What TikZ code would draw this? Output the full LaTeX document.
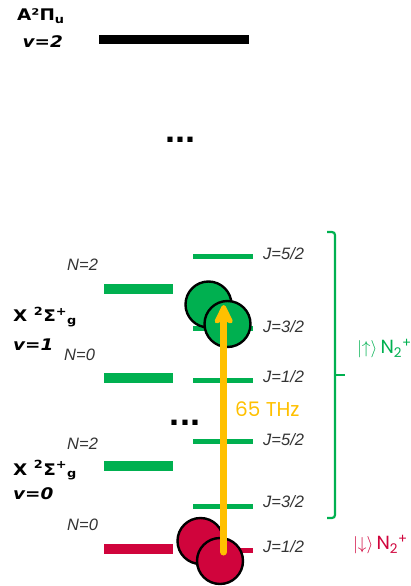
\documentclass[tikz,border=0pt]{standalone}
\usepackage{fontspec}
\setmainfont{Liberation Sans}
\newfontfamily\geo{Poppins}
\newfontfamily\widebold[FakeStretch=1.15]{DejaVu Sans}
\usetikzlibrary{arrows.meta}
\definecolor{lvgreen}{HTML}{00B050}
\definecolor{lvred}{HTML}{D0043C}
\definecolor{lvgold}{HTML}{FFC000}
\definecolor{lvgrey}{HTML}{333333}
\begin{document}
\begin{tikzpicture}[x=1pt,y=-1pt,
  bigbar/.style={rectangle, inner sep=0pt, minimum width=69pt, minimum height=10pt, fill=#1},
  smallbar/.style={rectangle, inner sep=0pt, minimum width=60pt, minimum height=5pt, fill=#1},
  qlabel/.style={font=\fontsize{16.5}{17}\selectfont\itshape, text=lvgrey, anchor=base west, inner sep=0pt},
  statelabel/.style={font=\widebold\fontsize{16}{17}\selectfont\bfseries, anchor=base west, inner sep=0pt},
  vlabel/.style={font=\widebold\fontsize{16}{17}\selectfont\bfseries\itshape, anchor=base west, inner sep=0pt},
  ball/.style={circle, inner sep=0pt, minimum size=46pt, draw=black, line width=2.4pt, fill=#1},
  dots/.style={font=\fontsize{36}{36}\selectfont\bfseries, anchor=base, inner sep=0pt},
  spinlabel/.style={font=\geo\fontsize{19}{20}\selectfont, anchor=base west, inner sep=0pt, text=#1},
]
\useasboundingbox (0,0) rectangle (411,586);

% A state
\node[statelabel] (Alab) at (17,20.5) {A²Π\textsubscript{u}};
\node[vlabel] (Av) at (22.5,47.5) {v=2};
\node[rectangle, inner sep=0pt, minimum width=150pt, minimum height=9pt, fill=black] (Abar) at (174,39.5) {};
\node[dots] (dotsA) at (180.5,142) {...};

% X v=1
\node[statelabel] (X1lab) at (13,321.5) {X \textsuperscript{2}Σ\textsuperscript{+}\textsubscript{g}};
\node[vlabel] (X1v) at (13,350.5) {v=1};
\node[bigbar=lvgreen] (b1N2) at (138.5,289) {};
\node[bigbar=lvgreen] (b1N0) at (138.5,377.5) {};
\node[qlabel] (l1N2) at (67,270) {N=2};
\node[qlabel] (l1N0) at (64,360) {N=0};
\node[smallbar=lvgreen] (s1J5) at (223,256.5) {};
\node[smallbar=lvgreen] (s1J3) at (222.5,328.5) {};
\node[smallbar=lvgreen] (s1J1) at (222.5,380.5) {};
\node[qlabel] (l1J5) at (263,259) {J=5/2};
\node[qlabel] (l1J3) at (263,332) {J=3/2};
\node[qlabel] (l1J1) at (263,382) {J=1/2};

\node[dots] (dotsX) at (185,425) {...};

% X v=0
\node[statelabel] (X0lab) at (13,475) {X \textsuperscript{2}Σ\textsuperscript{+}\textsubscript{g}};
\node[vlabel] (X0v) at (13,499.5) {v=0};
\node[bigbar=lvgreen] (b0N2) at (138.5,466) {};
\node[bigbar=lvred] (b0N0) at (138.5,549) {};
\node[qlabel] (l0N2) at (67,449) {N=2};
\node[qlabel] (l0N0) at (67,530) {N=0};
\node[smallbar=lvgreen] (s0J5) at (223,441.5) {};
\node[smallbar=lvgreen] (s0J3) at (222.5,506.5) {};
\node[smallbar=lvred] (s0J1) at (223,550.5) {};
\node[qlabel] (l0J5) at (263,445) {J=5/2};
\node[qlabel] (l0J3) at (263,507) {J=3/2};
\node[qlabel] (l0J1) at (263,552) {J=1/2};

% balls
\node[ball=lvgreen] (g1) at (208.5,304.5) {};
\node[ball=lvgreen] (g2) at (227.5,324) {};
\node[ball=lvred] (r1) at (200.5,541) {};
\node[ball=lvred] (r2) at (220,561) {};

% arrow
\coordinate (arrS) at (223.7,552);
\coordinate (arrE) at (223.7,305);
\draw[lvgold, line width=7pt, line cap=round, -{Stealth[length=24pt, width=23pt, inset=6pt, round]}] (arrS) -- (arrE);
\node[font=\geo\fontsize{20}{21}\selectfont, text=lvgold, anchor=base west, inner sep=0pt] (thz) at (235,416) {65 THz};

% bracket
\coordinate (brT) at (327,232);
\coordinate (brB) at (327,518);
\coordinate (brM) at (335,375);
\coordinate (brMt) at (345,375);
\draw[lvgreen, line width=2.2pt, rounded corners=3pt] (brT) -- (335,232) -- (335,518) -- (brB);
\draw[lvgreen, line width=2.2pt] (brM) -- (brMt);

\node[spinlabel=lvgreen] (up) at (357,353.5) {$|{\uparrow}\rangle$\,N\textsubscript{2}\textsuperscript{+}};
\node[spinlabel=lvred] (down) at (353,549.5) {$|{\downarrow}\rangle$\,N\textsubscript{2}\textsuperscript{+}};
\end{tikzpicture}
\end{document}
